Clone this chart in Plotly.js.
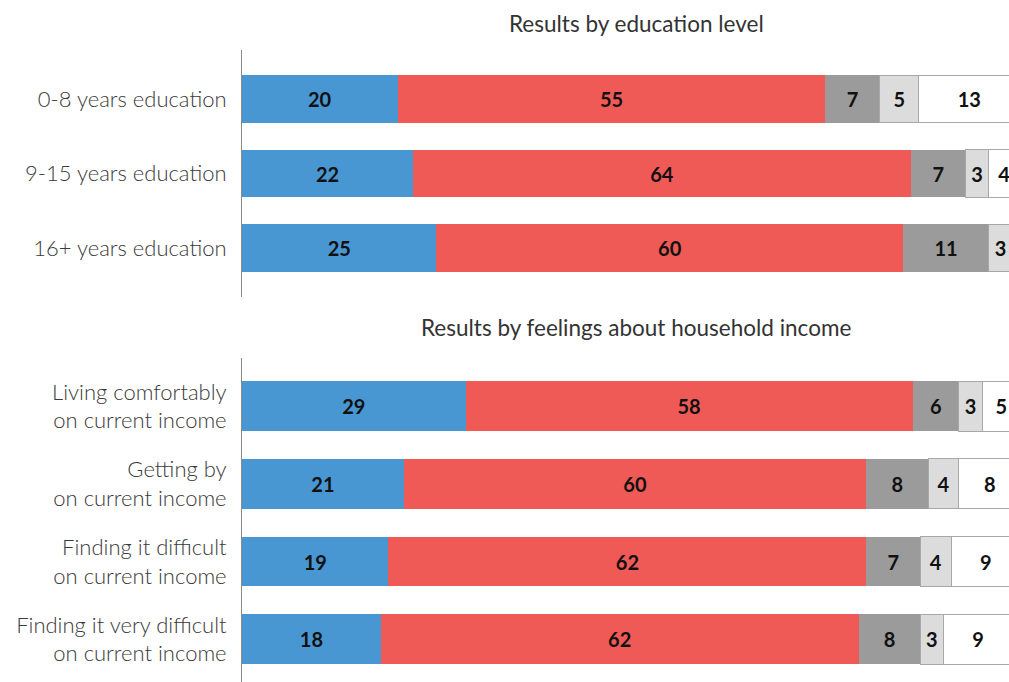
<!DOCTYPE html>
<html><head><meta charset="utf-8">
<script src="https://cdn.plot.ly/plotly-3.0.1.min.js"></script>
<style>html,body{margin:0;padding:0;background:#fff}#chart{width:1009px;height:682px}</style>
</head><body><div id="chart"></div>
<script>
const eduCats = ["0-8 years education", "9-15 years education", "16+ years education"];
const eduS1 = [20, 22, 25];
const eduS2 = [55, 64, 60];
const eduS3 = [7, 7, 11];
const eduS4 = [5, 3, 3];
const eduS5 = [13, 4, 2];

const incCats = ["Living comfortably<br>on current income", "Getting by<br>on current income", "Finding it difficult<br>on current income", "Finding it very difficult<br>on current income"];
const incS1 = [29, 21, 19, 18];
const incS2 = [58, 60, 62, 62];
const incS3 = [6, 8, 7, 8];
const incS4 = [3, 4, 4, 3];
const incS5 = [5, 8, 9, 9];

const titles = ["Results by education level", "Results by feelings about household income"];

const fills = ["#4897d3", "#f05a56", "#9b9b9b", "#dcdcdd", "#ffffff"];
const lines = ["#4897d3", "#f05a56", "#9b9b9b", "#a8a8a8", "#a8a8a8"];
const FONT = "Lato, 'Open Sans', sans-serif";

function mk(vals, cats, i, xa, ya) {
  return {
    type: "bar", orientation: "h", x: vals, y: cats, xaxis: xa, yaxis: ya,
    text: vals.map(String), textposition: "inside", insidetextanchor: "middle",
    constraintext: "none", cliponaxis: true,
    textfont: {family: FONT, size: 20, color: "#111", weight: 700},
    marker: {color: fills[i], line: {color: lines[i], width: i >= 3 ? 1 : 0}},
    hoverinfo: "skip", showlegend: false
  };
}
const data = [];
[eduS1, eduS2, eduS3, eduS4, eduS5].forEach((v, i) => data.push(mk(v, eduCats, i, "x", "y")));
[incS1, incS2, incS3, incS4, incS5].forEach((v, i) => data.push(mk(v, incCats, i, "x2", "y2")));

const yax = {
  showline: true, linecolor: "#8a8a8a", linewidth: 1, ticks: "", showgrid: false, zeroline: false,
  tickfont: {family: FONT, size: 22, color: "#3a3a3a", weight: 300}, ticklabelstandoff: 10
};
const xax = {showgrid: false, zeroline: false, showticklabels: false, ticks: "", showline: false, fixedrange: true};

const layout = {
  width: 1009, height: 682, paper_bgcolor: "#fff", plot_bgcolor: "#fff",
  margin: {l: 242, r: 0, t: 50, b: 0},
  barmode: "stack", bargap: 0.36,
  xaxis: Object.assign({}, xax, {domain: [0, 1], range: [0, 98.6], anchor: "y"}),
  xaxis2: Object.assign({}, xax, {domain: [0, 1], range: [0, 99.5], anchor: "y2"}),
  yaxis: Object.assign({}, yax, {domain: [0.609, 1], range: [2.66, -0.66], anchor: "x"}),
  yaxis2: Object.assign({}, yax, {domain: [0, 0.5127], range: [3.55, -0.62], anchor: "x2"}),
  annotations: [
    {text: titles[0], xref: "paper", yref: "paper", x: 0.514, y: 1, yshift: 27, xanchor: "center", yanchor: "middle", showarrow: false, font: {family: FONT, size: 22.5, color: "#333", weight: 400}},
    {text: titles[1], xref: "paper", yref: "paper", x: 0.514, y: 0.5127, yshift: 30, xanchor: "center", yanchor: "middle", showarrow: false, font: {family: FONT, size: 22.5, color: "#333", weight: 400}}
  ]
};
Plotly.newPlot("chart", data, layout, {staticPlot: true});
</script></body></html>
